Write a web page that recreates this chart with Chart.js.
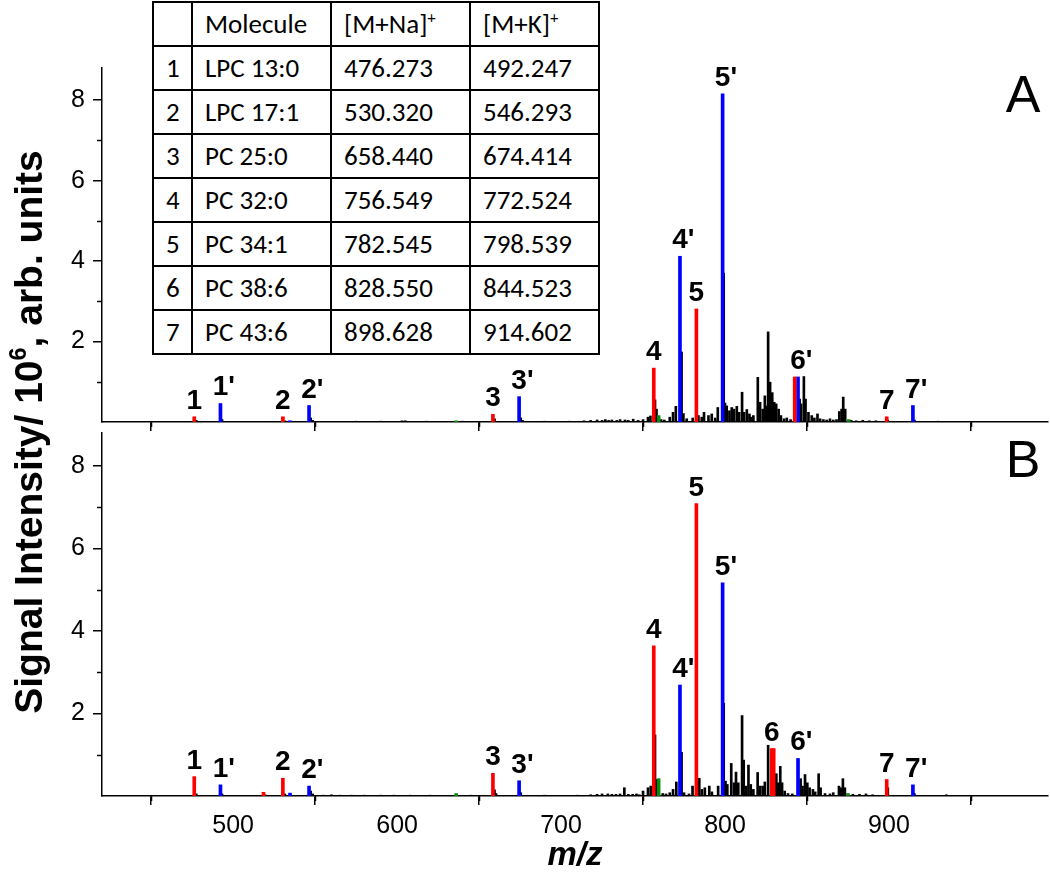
<!DOCTYPE html>
<html>
<head>
<meta charset="utf-8">
<script src="https://cdn.jsdelivr.net/npm/chart.js@4.4.1/dist/chart.umd.min.js"></script>
<style>
html,body{margin:0;padding:0;background:#fff;}
#wrap{position:relative;width:1050px;height:872px;overflow:hidden;background:#fff;}
#wrap canvas{position:absolute;left:0;top:0;}
#tbl{position:absolute;left:152px;top:1px;border-collapse:collapse;table-layout:fixed;background:#fff;
  font-family:Carlito,Calibri,"Liberation Sans",Arial,sans-serif;font-size:27px;color:#000;}
#tbl td{border:2px solid #000;padding:0 0 0 12px;height:42px;line-height:30px;white-space:nowrap;vertical-align:middle;overflow:hidden;}
#tbl sup{font-size:60%;vertical-align:0.6em;line-height:0;}
#ytitle{position:absolute;left:-271px;top:410px;width:600px;height:44px;line-height:44px;text-align:center;
  transform:rotate(-90deg);font-family:"Liberation Sans",Arial,sans-serif;font-weight:bold;font-size:39px;color:#000;white-space:nowrap;}
#ytitle sup{font-size:60%;vertical-align:0.7em;line-height:0;}
</style>
</head>
<body>
<div id="wrap">
  <canvas id="cB" width="1050" height="872"></canvas>
  <canvas id="cA" width="1050" height="445"></canvas>
  <table id="tbl"></table>
  <div id="ytitle">Signal Intensity/ 10<sup>6</sup>, arb. units</div>
</div>
<script>
// ---------- table data ----------
const molecules = ['LPC 13:0','LPC 17:1','PC 25:0','PC 32:0','PC 34:1','PC 38:6','PC 43:6'];
const naMz = [476.273, 530.320, 658.440, 756.549, 782.545, 828.550, 898.628];
const kMz  = [492.247, 546.293, 674.414, 772.524, 798.539, 844.523, 914.602];

// ---------- axes ----------
const xMin = 420, xMax = 997;
const yMin = 0, yMax = 8.8;
const xMajor = [500, 600, 700, 800, 900];
const xMinor = [450, 550, 650, 750, 850, 950];
const yMajor = [2, 4, 6, 8];
const yMinor = [1, 3, 5, 7];

// ---------- panel A ----------
const naA = [0.13, 0.13, 0.19, 1.34, 2.81, 0, 0.13];
const kA  = [0.46, 0.41, 0.63, 4.12, 8.16, 1.12, 0.41];
const redExtraMzA = [842.5];
const redExtraA   = [1.12];
const blueExtraMzA = [534.7];
const blueExtraA   = [0.03];
const greenMzA = [636, 759.5, 875.4];
const greenA   = [0.03, 0.16, 0.06];
const blackMzA = [477.5,493.2,531.5,547.3,548.5,575,590,603,605,618,640,659.4,675.4,676.5,690,705,714,718,722,725,727,729,731,734,736,739,741,744,747,750,753,754.5,757.3,758.2,761,763,766.3,768.3,770,773.5,774.6,776.6,780.3,783.8,785.8,787.2,789.9,791.9,794,795.6,799.2,800,801,802.7,804.1,805.5,807.2,808.6,810.4,811.6,813.3,814.9,816,817.3,820,821.4,823,824.3,825.5,826.3,827.5,828.8,830,831.2,832.7,834.1,836,837.7,840,845.5,846.4,848.1,849.1,850.9,852.9,854.5,856.4,858,860,862,864,866,868,869.7,871.1,872.1,873.3,877,880,884,888,892,899.2,915.5,930];
const blackA   = [0.04,0.06,0.03,0.1,0.04,0.02,0.02,0.03,0.03,0.02,0.02,0.08,0.1,0.04,0.02,0.02,0.03,0.04,0.05,0.04,0.06,0.04,0.05,0.04,0.06,0.05,0.04,0.07,0.04,0.06,0.12,0.15,0.55,0.32,0.06,0.05,0.12,0.24,0.39,1.74,0.21,0.08,0.1,0.16,0.12,0.24,0.16,0.2,0.1,0.36,3.7,0.47,0.4,0.28,0.36,0.32,0.39,0.24,0.74,0.24,0.31,0.2,0.12,0.16,1.11,0.49,0.32,0.65,0.4,2.24,0.99,0.73,0.49,0.45,0.32,0.16,0.08,0.1,0.06,0.57,0.45,1.13,0.57,0.24,0.16,0.1,0.2,0.08,0.06,0.05,0.08,0.05,0.06,0.26,0.32,0.62,0.32,0.04,0.03,0.04,0.03,0.03,0.05,0.05,0.02];

// ---------- panel B ----------
const naB = [0.47, 0.43, 0.55, 3.64, 7.09, 1.15, 0.40];
const kB  = [0.27, 0.24, 0.37, 2.69, 5.17, 0.91, 0.27];
const redExtraMzB = [518.5, 829.7];
const redExtraB   = [0.09, 1.15];
const blueExtraMzB = [534.7];
const blueExtraB   = [0.07];
const greenMzB = [636, 759.5, 875];
const greenB   = [0.06, 0.42, 0.06];
const blackMzB = [477.5,493.2,519.5,531.5,547.3,548.5,555,560,565,572,580,590,598,608,620,645,659.4,660.3,675.4,690,710,718,722,725,728.5,731,733.5,736,738.6,741,743.7,746,747.7,750,753,754.7,757.3,758.2,762,764,766.3,768.3,770.3,773.5,775,778,780.2,784.3,785.9,787.7,790.4,792,795.8,799.2,800.3,801.4,803.8,805.5,806.7,808.1,810.4,811.4,812.8,814.3,815.7,817.3,819.9,821.4,823,824.3,826.3,831.3,832.3,833.7,834.8,836.4,838.4,841,846.1,847.3,848.8,850.2,851.6,853.6,855,857.1,858.3,861,864,866,869.5,870.7,871.9,873.1,878,882,886,890,899.3,915.5,935];
const blackB   = [0.05,0.05,0.03,0.05,0.12,0.05,0.02,0.03,0.02,0.02,0.02,0.02,0.02,0.02,0.02,0.02,0.15,0.06,0.08,0.02,0.02,0.03,0.04,0.05,0.05,0.04,0.04,0.05,0.2,0.04,0.04,0.05,0.03,0.12,0.2,0.24,1.48,0.4,0.06,0.05,0.08,0.16,0.34,1.06,0.08,0.05,0.24,0.43,0.16,0.2,0.24,0.1,0.24,2.25,0.36,0.28,0.79,0.32,0.58,0.32,1.95,0.87,0.24,0.75,0.28,0.16,0.57,0.24,0.24,0.34,1.23,0.54,0.32,0.72,0.32,0.12,0.06,0.05,0.42,0.24,0.52,0.32,0.2,0.16,0.1,0.54,0.2,0.06,0.05,0.08,0.24,0.2,0.42,0.2,0.04,0.04,0.05,0.03,0.2,0.06,0.03];

// ---------- build table ----------
(function(){
  const t = document.getElementById('tbl');
  const widths = [39, 139, 139, 129];
  let html = '<colgroup>' + widths.map(w => '<col style="width:' + w + 'px">').join('') + '</colgroup>';
  html += '<tr><td></td><td>Molecule</td><td>[M+Na]<sup>+</sup></td><td>[M+K]<sup>+</sup></td></tr>';
  molecules.forEach((m, i) => {
    html += '<tr><td>' + (i + 1) + '</td><td>' + m + '</td><td>' + naMz[i].toFixed(3) + '</td><td>' + kMz[i].toFixed(3) + '</td></tr>';
  });
  t.innerHTML = html;
})();

const FONT = '"Liberation Sans", Arial, sans-serif';

function pts(xs, ys) { return xs.map((x, i) => ({x: x, y: ys[i]})).filter(p => p.y > 0); }

function peakItems(na, k) {
  const items = [];
  na.forEach((h, i) => { if (h > 0) items.push({text: String(i + 1), x: naMz[i], y: h}); });
  k.forEach((h, i) => { if (h > 0) items.push({text: (i + 1) + "'", x: kMz[i], y: h}); });
  return items;
}

const peakLabels = {
  id: 'peakLabels',
  afterDatasetsDraw(chart, args, opts) {
    const ctx = chart.ctx, xs = chart.scales.x, ys = chart.scales.y;
    ctx.save();
    ctx.fillStyle = '#000';
    ctx.textBaseline = 'alphabetic';
    ctx.textAlign = 'left';
    ctx.font = 'bold 28px ' + FONT;
    (opts.items || []).forEach(it => {
      const px = xs.getPixelForValue(it.x), py = ys.getPixelForValue(it.y);
      const digit = it.text.replace("'", '');
      const w = ctx.measureText(digit).width;
      ctx.fillText(it.text, px - w / 2, py - 8);
    });
    // minor ticks
    ctx.strokeStyle = '#000';
    ctx.lineWidth = 1.5;
    xMinor.forEach(v => {
      const px = Math.round(xs.getPixelForValue(v)) + 0.5;
      ctx.beginPath(); ctx.moveTo(px, xs.top); ctx.lineTo(px, xs.top + 5); ctx.stroke();
    });
    yMinor.forEach(v => {
      const py = Math.round(ys.getPixelForValue(v)) + 0.5;
      ctx.beginPath(); ctx.moveTo(ys.right, py); ctx.lineTo(ys.right - 5, py); ctx.stroke();
    });
    // panel letter
    ctx.font = '52px ' + FONT;
    ctx.textAlign = 'center';
    ctx.fillText(opts.letter, chart.chartArea.right - 25, chart.chartArea.top + 44);
    ctx.restore();
  }
};

function makeChart(id, cfg) {
  const datasets = [
    {label: 'other', data: pts(cfg.blackMz, cfg.black), backgroundColor: '#000', barThickness: 2, order: 3},
    {label: 'green', data: pts(cfg.greenMz, cfg.green), backgroundColor: '#0a8a0a', barThickness: 3, order: 2},
    {label: '[M+Na]+', data: pts(naMz.concat(cfg.redExMz), cfg.na.concat(cfg.redEx)), backgroundColor: '#ff0000', barThickness: 3, order: 1},
    {label: '[M+K]+', data: pts(kMz.concat(cfg.blueExMz), cfg.k.concat(cfg.blueEx)), backgroundColor: '#0000ff', barThickness: 3, order: 1}
  ];
  datasets.forEach(d => { d.grouped = false; d.borderWidth = 0; });
  return new Chart(document.getElementById(id), {
    type: 'bar',
    data: {datasets: datasets},
    plugins: [peakLabels],
    options: {
      responsive: false,
      animation: false,
      events: [],
      layout: {padding: {top: cfg.top, right: 2, left: 0, bottom: 0}},
      plugins: {
        legend: {display: false},
        tooltip: {enabled: false},
        peakLabels: {items: peakItems(cfg.na, cfg.k), letter: cfg.letter}
      },
      scales: {
        x: {
          type: 'linear', min: xMin, max: xMax, offset: false,
          afterBuildTicks: s => { s.ticks = xMajor.map(v => ({value: v})); },
          afterFit: s => { s.height = cfg.xh; },
          grid: {display: true, drawOnChartArea: false, drawTicks: true, tickLength: 9, color: '#000', lineWidth: 1.5},
          border: {display: true, color: '#000', width: 1.5},
          ticks: {
            color: '#000', padding: 6, maxRotation: 0, autoSkip: false,
            font: {family: FONT, size: 25},
            callback: v => cfg.xLabels ? String(v) : ''
          },
          title: cfg.xLabels ? {display: true, text: 'm/z', color: '#000',
            font: {family: FONT, size: 33, weight: 'bold', style: 'italic', lineHeight: 1.0},
            padding: {top: 0, bottom: 0}} : {display: false}
        },
        y: {
          type: 'linear', min: yMin, max: yMax,
          afterBuildTicks: s => { s.ticks = yMajor.map(v => ({value: v})); },
          afterFit: s => { s.width = 102; },
          grid: {display: true, drawOnChartArea: false, drawTicks: true, tickLength: 9, color: '#000', lineWidth: 1.5},
          border: {display: true, color: '#000', width: 1.5},
          ticks: {color: '#000', padding: 8, font: {family: FONT, size: 25}, callback: v => String(v)}
        }
      }
    }
  });
}

makeChart('cB', {top: 433, xh: 76, xLabels: true, letter: 'B',
  na: naB, k: kB, redExMz: redExtraMzB, redEx: redExtraB, blueExMz: blueExtraMzB, blueEx: blueExtraB,
  greenMz: greenMzB, green: greenB, blackMz: blackMzB, black: blackB});
makeChart('cA', {top: 68, xh: 13, xLabels: false, letter: 'A',
  na: naA, k: kA, redExMz: redExtraMzA, redEx: redExtraA, blueExMz: blueExtraMzA, blueEx: blueExtraA,
  greenMz: greenMzA, green: greenA, blackMz: blackMzA, black: blackA});
</script>
</body>
</html>
